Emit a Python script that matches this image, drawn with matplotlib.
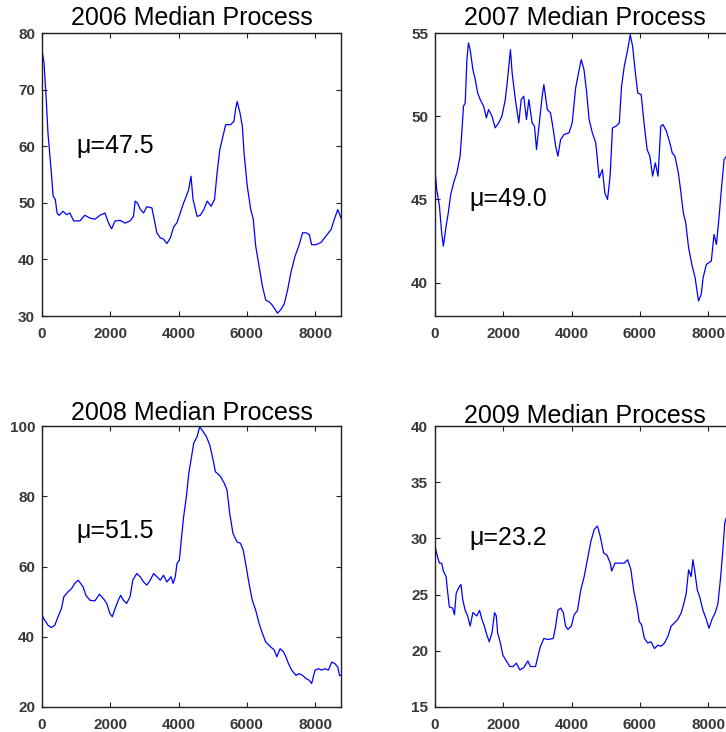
import numpy as np
import matplotlib
matplotlib.use("Agg")
import matplotlib.pyplot as plt

plt.rcParams['font.family'] = ['Liberation Sans', 'DejaVu Sans']

## Données (heure de l'année, valeur médiane)
h2006 = [0, 60, 130, 175, 225, 275, 325, 390, 440, 500, 620, 720, 815, 930, 1110, 1255,
         1400, 1550, 1700, 1845, 1945, 2040, 2140, 2290, 2435, 2580, 2680, 2730, 2800,
         2875, 2975, 3070, 3220, 3270, 3365, 3465, 3560, 3660, 3760, 3855, 3955, 4050,
         4150, 4230, 4300, 4365, 4425, 4545, 4640, 4740, 4840, 4955, 5055, 5130, 5210,
         5280, 5380, 5525, 5625, 5670, 5720, 5800, 5870, 5920, 6015, 6115, 6190, 6260,
         6360, 6460, 6555, 6655, 6750, 6900, 6995, 7095, 7195, 7290, 7410, 7535, 7635,
         7735, 7830, 7900, 8030, 8175, 8320, 8470, 8565, 8665, 8760]
v2006 = [77.0, 74.7, 67.6, 62.3, 58.8, 55.2, 51.2, 50.6, 48.2, 47.8, 48.5, 47.9, 48.2,
         46.8, 46.8, 47.8, 47.3, 47.1, 47.8, 48.2, 46.5, 45.4, 46.8, 46.9, 46.4, 46.8,
         47.6, 50.3, 49.9, 48.9, 48.2, 49.3, 49.1, 47.6, 44.7, 43.8, 43.6, 42.8, 43.8,
         45.7, 46.5, 48.2, 50.0, 51.2, 52.4, 54.7, 50.6, 47.6, 47.8, 48.8, 50.3, 49.4,
         50.6, 55.3, 59.4, 61.2, 63.8, 63.8, 64.4, 66.5, 67.9, 65.9, 63.5, 58.8, 52.9,
         48.8, 47.1, 42.4, 38.8, 35.2, 32.8, 32.5, 31.9, 30.5, 31.1, 32.1, 34.6, 37.6,
         40.5, 42.6, 44.7, 44.7, 44.4, 42.6, 42.6, 43.0, 44.1, 45.3, 47.1, 48.8, 47.3]

h2007 = [0, 50, 130, 195, 245, 325, 390, 460, 560, 640, 735, 785, 835, 885, 935, 980,
         1030, 1110, 1180, 1250, 1325, 1425, 1505, 1570, 1670, 1765, 1865, 1960, 2060,
         2125, 2210, 2260, 2355, 2455, 2525, 2600, 2680, 2750, 2845, 2915, 2975, 3045,
         3140, 3190, 3290, 3385, 3465, 3535, 3600, 3680, 3780, 3925, 4020, 4120, 4215,
         4285, 4365, 4445, 4515, 4610, 4710, 4810, 4905, 4975, 5055, 5130, 5200, 5300,
         5400, 5465, 5545, 5645, 5720, 5790, 5860, 5940, 6040, 6135, 6215, 6295, 6375,
         6455, 6535, 6615, 6680, 6780, 6880, 6950, 7030, 7130, 7205, 7275, 7345, 7430,
         7525, 7620, 7720, 7800, 7855, 7950, 8095, 8175, 8245, 8320, 8390, 8470, 8540,
         8650, 8760]
v2007 = [46.8, 45.6, 44.6, 43.0, 42.2, 43.4, 44.2, 45.3, 46.1, 46.6, 47.6, 49.0, 50.6,
         50.8, 53.4, 54.4, 54.0, 52.8, 52.2, 51.4, 51.0, 50.6, 49.9, 50.4, 50.0, 49.3,
         49.6, 50.0, 51.0, 52.2, 54.0, 52.6, 51.0, 49.6, 51.0, 51.2, 49.8, 51.0, 49.6,
         49.4, 48.0, 49.4, 51.2, 51.9, 50.4, 50.2, 49.2, 48.2, 47.6, 48.6, 48.9, 49.0,
         49.6, 51.7, 52.7, 53.4, 52.8, 51.4, 49.8, 49.0, 48.4, 46.3, 46.8, 45.4, 45.0,
         46.4, 49.3, 49.4, 49.6, 51.8, 53.0, 54.0, 54.9, 54.2, 52.8, 51.4, 51.3, 49.4,
         48.0, 47.6, 46.4, 47.2, 46.4, 49.4, 49.5, 49.1, 48.4, 47.8, 47.6, 46.6, 45.4,
         44.2, 43.6, 42.1, 41.1, 40.3, 38.9, 39.3, 40.3, 41.1, 41.3, 42.9, 42.3, 43.9,
         45.6, 47.4, 47.6, 47.3, 47.5]

h2008 = [0, 80, 175, 275, 375, 470, 570, 640, 765, 865, 960, 1060, 1130, 1205, 1285,
         1405, 1550, 1680, 1795, 1895, 1990, 2060, 2140, 2235, 2305, 2385, 2480, 2580,
         2660, 2775, 2875, 2975, 3070, 3170, 3270, 3365, 3465, 3560, 3660, 3780, 3840,
         3905, 3955, 4025, 4080, 4150, 4230, 4300, 4365, 4445, 4545, 4620, 4720, 4815,
         4915, 5015, 5080, 5225, 5340, 5420, 5500, 5595, 5715, 5815, 5895, 5965, 6065,
         6160, 6260, 6360, 6460, 6555, 6700, 6800, 6880, 6975, 7075, 7145, 7215, 7315,
         7440, 7535, 7635, 7735, 7830, 7900, 8000, 8095, 8195, 8295, 8390, 8490, 8585,
         8665, 8715, 8760]
v2008 = [46.1, 44.7, 43.3, 42.6, 43.3, 45.7, 48.0, 51.4, 52.8, 53.7, 55.2, 56.1, 55.2,
         54.2, 51.8, 50.4, 50.2, 52.1, 50.9, 49.5, 46.6, 45.7, 48.0, 50.4, 51.8, 50.4,
         49.5, 51.4, 56.1, 58.0, 57.1, 55.6, 54.7, 56.1, 58.0, 57.1, 56.1, 57.5, 55.6,
         57.1, 55.2, 57.1, 60.9, 61.8, 67.5, 74.2, 79.9, 86.5, 90.3, 95.1, 97.0, 99.8,
         98.4, 97.0, 94.6, 90.3, 87.0, 85.7, 83.7, 81.8, 75.1, 69.4, 67.0, 66.6, 64.7,
         60.9, 55.2, 50.4, 47.6, 43.8, 40.9, 38.5, 37.1, 36.3, 34.3, 36.6, 35.7, 34.3,
         32.5, 30.5, 29.0, 29.5, 29.0, 28.1, 27.6, 26.7, 30.5, 30.9, 30.5, 30.9, 30.5,
         32.8, 32.3, 31.4, 29.0, 29.0]

h2009 = [0, 70, 130, 195, 245, 325, 365, 420, 520, 570, 620, 690, 760, 815, 885, 955,
         1030, 1110, 1225, 1305, 1375, 1445, 1520, 1590, 1670, 1745, 1795, 1835, 1915,
         1990, 2090, 2190, 2285, 2385, 2485, 2600, 2720, 2795, 2945, 3015, 3090, 3190,
         3310, 3465, 3535, 3600, 3680, 3760, 3825, 3895, 3995, 4075, 4175, 4270, 4370,
         4465, 4565, 4665, 4760, 4840, 4940, 5040, 5135, 5175, 5275, 5400, 5545, 5645,
         5740, 5820, 5920, 5985, 6055, 6135, 6235, 6330, 6430, 6530, 6625, 6725, 6825,
         6920, 7020, 7115, 7215, 7290, 7360, 7430, 7505, 7555, 7605, 7685, 7755, 7850,
         7950, 8025, 8115, 8210, 8290, 8370, 8435, 8490, 8560, 8650, 8760]
v2009 = [29.3, 28.4, 27.8, 27.8, 27.1, 26.6, 25.4, 23.9, 23.8, 23.2, 25.1, 25.6, 25.9,
         24.5, 23.6, 23.1, 22.2, 23.4, 23.1, 23.6, 22.8, 22.2, 21.4, 20.8, 21.6, 23.4,
         23.1, 21.6, 20.7, 19.6, 19.1, 18.6, 18.6, 18.9, 18.3, 18.5, 19.1, 18.6, 18.6,
         19.5, 20.4, 21.1, 21.0, 21.1, 22.2, 23.6, 23.8, 23.4, 22.2, 21.9, 22.2, 23.2,
         23.6, 25.4, 26.6, 28.1, 29.7, 30.8, 31.1, 30.2, 28.7, 28.5, 27.8, 27.1, 27.8,
         27.8, 27.8, 28.1, 27.2, 25.4, 23.9, 22.6, 22.3, 21.1, 20.7, 20.8, 20.2, 20.5,
         20.4, 20.7, 21.3, 22.2, 22.5, 22.8, 23.4, 24.2, 25.1, 27.2, 26.6, 28.1, 27.2,
         25.4, 24.8, 23.6, 22.8, 22.0, 22.8, 23.4, 24.2, 26.6, 29.0, 31.4, 32.1, 32.0,
         32.0]

annees = ['2006', '2007', '2008', '2009']
heures = [h2006, h2007, h2008, h2009]
valeurs = [v2006, v2007, v2008, v2009]
moyennes = ['47.5', '49.0', '51.5', '23.2']
limites_y = [(30, 80), (38, 55), (20, 100), (15, 40)]
ticks_y = [[30, 40, 50, 60, 70, 80], [40, 45, 50, 55], [20, 40, 60, 80, 100],
           [15, 20, 25, 30, 35, 40]]
pos_mu = [60, 45, 70, 30]

## Figure
fig = plt.figure(figsize=(7.26, 7.32), dpi=100)
W, H = 726.0, 732.0
cadres = [(42, 33, 299, 283), (435, 33, 299, 283),
          (42, 426, 299, 281), (435, 426, 299, 281)]
pads = [5.5, 5.5, 4.5, 2.5]

for i in range(4):
    x0, y0, w, h = cadres[i]
    ax = fig.add_axes([x0 / W, 1 - (y0 + h) / H, w / W, h / H])
    ax.plot(heures[i], valeurs[i], color='#0000FF', lw=0.9)
    ax.set_xlim(0, 8760)
    ax.set_ylim(*limites_y[i])
    ax.set_xticks([0, 2000, 4000, 6000, 8000])
    ax.set_yticks(ticks_y[i])
    ax.tick_params(direction='in', top=True, right=True, length=3.5, width=0.8,
                   labelsize=11, colors='#202020')
    ax.tick_params(axis='x', pad=8)
    ax.tick_params(axis='y', pad=5)
    for lab in ax.get_xticklabels() + ax.get_yticklabels():
        lab.set_fontweight('bold')
        lab.set_color('#383838')
    for s in ax.spines.values():
        s.set_linewidth(1.0)
        s.set_color('#202020')
    ax.set_title(annees[i] + ' Median Process', fontsize=18, pad=pads[i])
    ax.text(1000, pos_mu[i], 'μ=' + moyennes[i], fontsize=18, va='center', ha='left')

fig.savefig('out.png', dpi=100)
